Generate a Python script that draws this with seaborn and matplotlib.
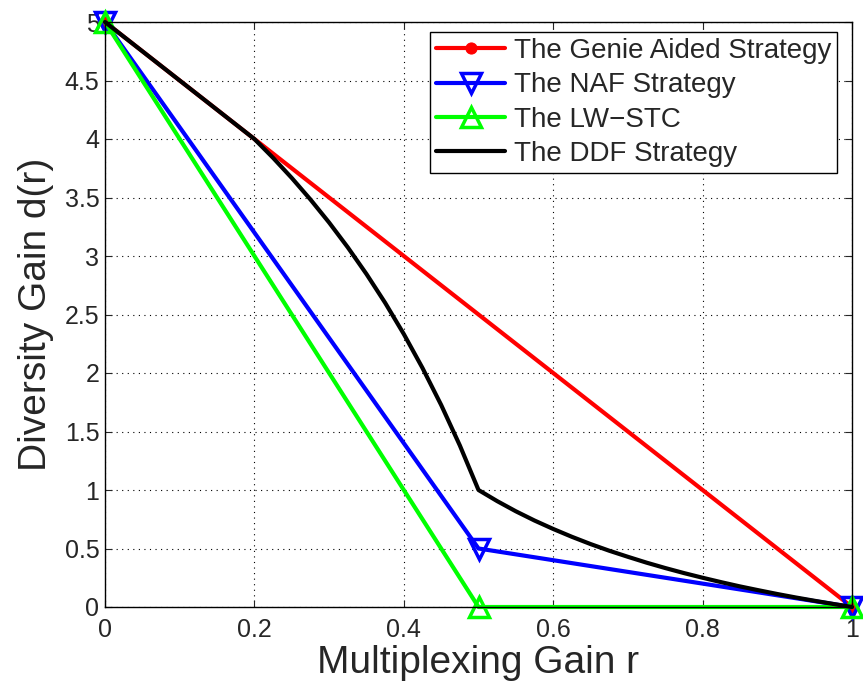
import numpy as np
import pandas as pd
import matplotlib
matplotlib.use("Agg")
import matplotlib.pyplot as plt
import seaborn as sns

# Diversity-multiplexing tradeoff curves
genie_r = [0.0, 1.0]
genie_d = [5.0, 0.0]

naf_r = [0.0, 0.5, 1.0]
naf_d = [5.0, 0.5, 0.0]

lwstc_r = [0.0, 0.5, 1.0]
lwstc_d = [5.0, 0.0, 0.0]

ddf_r = [0.0, 0.1, 0.2, 0.225, 0.25, 0.275, 0.3, 0.325, 0.35, 0.375, 0.4,
         0.425, 0.45, 0.475, 0.5, 0.525, 0.55, 0.575, 0.6, 0.625, 0.65,
         0.675, 0.7, 0.725, 0.75, 0.775, 0.8, 0.825, 0.85, 0.875, 0.9,
         0.925, 0.95, 0.975, 1.0]
ddf_d = [5.0, 4.5, 4.0, 3.839, 3.667, 3.483, 3.286, 3.074, 2.846, 2.6, 2.333,
         2.043, 1.727, 1.381, 1.0, 0.905, 0.818, 0.739, 0.667, 0.6, 0.538,
         0.481, 0.429, 0.379, 0.333, 0.290, 0.25, 0.212, 0.176, 0.143, 0.111,
         0.081, 0.053, 0.026, 0.0]

labels = ["The Genie Aided Strategy", "The NAF Strategy", "The LW\u2212STC", "The DDF Strategy"]
colors = ["#ff0000", "#0000ff", "#00ff00", "#000000"]
markers = ["o", "v", "^", None]

sns.set_style("white")
plt.rcParams["font.family"] = ["Liberation Sans", "DejaVu Sans"]

fig = plt.figure(figsize=(8.63, 6.93), dpi=100)
ax = fig.add_axes([105 / 863, 86 / 693, 747 / 863, 585 / 693])

series = [(genie_r, genie_d), (naf_r, naf_d), (lwstc_r, lwstc_d), (ddf_r, ddf_d)]
for (r, d), lab, c, m in zip(series, labels, colors, markers):
    df = pd.DataFrame({"r": r, "d": d})
    if m == "o":
        sns.lineplot(data=df, x="r", y="d", ax=ax, color=c, lw=3, label=lab,
                     marker="o", markersize=8, markerfacecolor=c,
                     markeredgecolor=c, clip_on=False)
    elif m is not None:
        sns.lineplot(data=df, x="r", y="d", ax=ax, color=c, lw=3, label=lab,
                     marker=m, markersize=15, markerfacecolor="none",
                     markeredgecolor=c, markeredgewidth=2.5, clip_on=False)
    else:
        sns.lineplot(data=df, x="r", y="d", ax=ax, color=c, lw=3, label=lab,
                     clip_on=False)

ax.set_xlim(0, 1)
ax.set_ylim(0, 5)
ax.set_xticks(np.arange(0, 1.01, 0.2))
ax.set_xticklabels(["0", "0.2", "0.4", "0.6", "0.8", "1"])
ax.set_yticks(np.arange(0, 5.01, 0.5))
ax.set_yticklabels(["0", "0.5", "1", "1.5", "2", "2.5", "3", "3.5", "4", "4.5", "5"])
ax.tick_params(direction="in", length=5, width=0.8, labelsize=18, pad=4,
               top=True, right=True, bottom=True, left=True)
ax.tick_params(axis="x", pad=8)
ax.grid(True, linestyle=(0, (1, 4)), color="black", linewidth=0.8)
ax.set_axisbelow(True)
for s in ax.spines.values():
    s.set_color("black")
    s.set_linewidth(1.0)
    s.set_visible(True)

ax.set_xlabel("Multiplexing Gain r", fontsize=28, labelpad=2)
ax.set_ylabel("Diversity Gain d(r)", fontsize=28, labelpad=8)

leg = ax.legend(loc="upper right", bbox_to_anchor=(0.98, 0.983),
                fontsize=20, frameon=True, fancybox=False,
                edgecolor="black", framealpha=1, handlelength=2.5,
                borderaxespad=0.0, labelspacing=0.3, handletextpad=0.3,
                borderpad=0.22)
leg.get_frame().set_linewidth(1.0)
leg.set_zorder(10)

fig.savefig("out.png", dpi=100)
